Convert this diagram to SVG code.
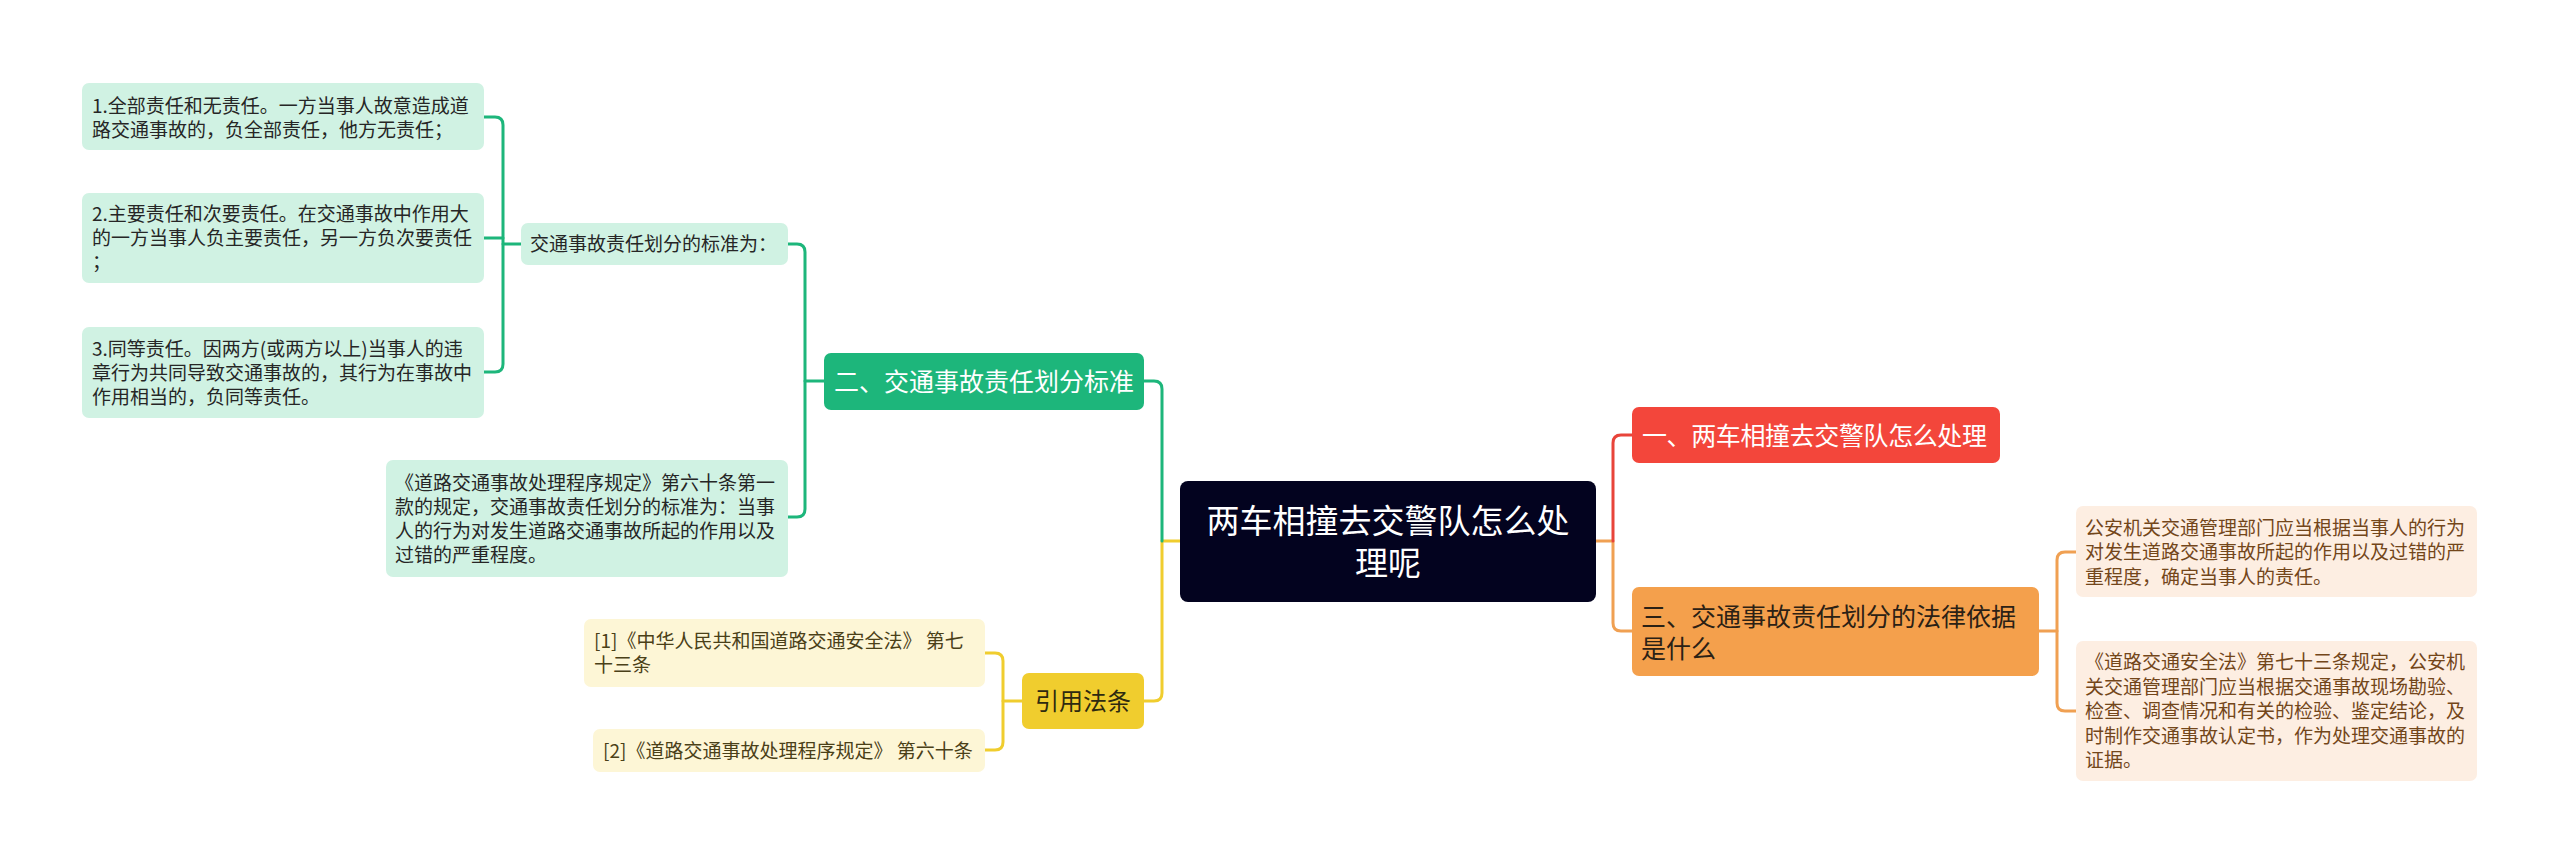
<svg xmlns="http://www.w3.org/2000/svg" width="2560" height="864" viewBox="0 0 2560 864">
<style>
text{font-family:"Noto Sans CJK SC","Noto Sans",sans-serif;}
.c{fill:none;stroke-width:3;stroke-linecap:round;stroke-linejoin:round;}
.g{stroke:#1db67b;}
.y{stroke:#f0cd2e;}
.r{stroke:#e8443a;}
.o{stroke:#f0a052;}
.lg{fill:#d0f2e3;}
.ly{fill:#fdf6d6;}
.lo{fill:#fdeee2;}
.tg{font-size:19px;fill:#262626;}
.ty{font-size:19px;fill:#4a4018;}
.to{font-size:19px;fill:#73461a;}
</style>
<rect width="2560" height="864" fill="#ffffff"/>
<g id="connectors">
<path class="c y" d="M1180,541 H1162 V693 Q1162,701 1154,701 H1144"/>
<path class="c g" d="M1162,541 V389 Q1162,381 1154,381 H1144"/>
<path class="c o" d="M1596,541 H1613 V623 Q1613,631 1621,631 H1632"/>
<path class="c r" d="M1613,541 V443 Q1613,435 1621,435 H1632"/>
<path class="c g" d="M824,381 H805"/>
<path class="c g" d="M788,244 H797 Q805,244 805,252 V509 Q805,517 797,517 H788"/>
<path class="c g" d="M521,244 H503"/>
<path class="c g" d="M484,117 H495 Q503,117 503,125 V364 Q503,372 495,372 H484"/>
<path class="c g" d="M484,238 H503"/>
<path class="c y" d="M1022,701 H1003"/>
<path class="c y" d="M985,653 H995 Q1003,653 1003,661 V742 Q1003,750 995,750 H985"/>
<path class="c o" d="M2039,631 H2057"/>
<path class="c o" d="M2076,552 H2065 Q2057,552 2057,560 V703 Q2057,711 2065,711 H2076"/>
</g>
<g id="root">
<rect x="1180" y="481" width="416" height="121" rx="8" fill="#03031f"/>
<text x="1388" y="532.5" font-size="33" fill="#ffffff" text-anchor="middle">两车相撞去交警队怎么处</text>
<text x="1388" y="574.5" font-size="33" fill="#ffffff" text-anchor="middle">理呢</text>
</g>
<g id="n-standard">
<rect x="824" y="353" width="320" height="57" rx="7" fill="#1db67b"/>
<text x="984" y="391" font-size="25" fill="#ffffff" text-anchor="middle">二、交通事故责任划分标准</text>
</g>
<g id="n-standard-intro">
<rect class="lg" x="521" y="223" width="267" height="42" rx="7"/>
<text class="tg" x="530" y="251">交通事故责任划分的标准为：</text>
</g>
<g id="n-item1">
<rect class="lg" x="82" y="83" width="402" height="67" rx="7"/>
<text class="tg" x="92" y="112.5">1.全部责任和无责任。一方当事人故意造成道</text>
<text class="tg" x="92" y="136.5">路交通事故的，负全部责任，他方无责任；</text>
</g>
<g id="n-item2">
<rect class="lg" x="82" y="193" width="402" height="90" rx="7"/>
<text class="tg" x="92" y="221">2.主要责任和次要责任。在交通事故中作用大</text>
<text class="tg" x="92" y="245">的一方当事人负主要责任，另一方负次要责任</text>
<text class="tg" x="92" y="269">；</text>
</g>
<g id="n-item3">
<rect class="lg" x="82" y="327" width="402" height="91" rx="7"/>
<text class="tg" x="92" y="355.5">3.同等责任。因两方(或两方以上)当事人的违</text>
<text class="tg" x="92" y="379.5">章行为共同导致交通事故的，其行为在事故中</text>
<text class="tg" x="92" y="403.5">作用相当的，负同等责任。</text>
</g>
<g id="n-rule60">
<rect class="lg" x="386" y="460" width="402" height="117" rx="7"/>
<text class="tg" x="395" y="489.5">《道路交通事故处理程序规定》第六十条第一</text>
<text class="tg" x="395" y="513.5">款的规定，交通事故责任划分的标准为：当事</text>
<text class="tg" x="395" y="537.5">人的行为对发生道路交通事故所起的作用以及</text>
<text class="tg" x="395" y="561.5">过错的严重程度。</text>
</g>
<g id="n-refs">
<rect x="1022" y="673" width="122" height="56" rx="7" fill="#f0cd2e"/>
<text x="1083" y="710" font-size="24" fill="#2e2a10" text-anchor="middle">引用法条</text>
</g>
<g id="n-ref1">
<rect class="ly" x="584" y="619" width="401" height="68" rx="7"/>
<text class="ty" x="594" y="648">[1]《中华人民共和国道路交通安全法》 第七</text>
<text class="ty" x="594" y="672">十三条</text>
</g>
<g id="n-ref2">
<rect class="ly" x="593" y="729" width="392" height="43" rx="7"/>
<text class="ty" x="603" y="757.5">[2]《道路交通事故处理程序规定》 第六十条</text>
</g>
<g id="n-how">
<rect x="1632" y="407" width="368" height="56" rx="7" fill="#f3463b"/>
<text x="1642" y="444.5" font-size="25" textLength="345" lengthAdjust="spacing" fill="#ffffff">一、两车相撞去交警队怎么处理</text>
</g>
<g id="n-basis">
<rect x="1632" y="587" width="407" height="89" rx="7" fill="#f4a04c"/>
<text x="1641" y="625.5" font-size="25" fill="#2b2115">三、交通事故责任划分的法律依据</text>
<text x="1641" y="657.5" font-size="25" fill="#2b2115">是什么</text>
</g>
<g id="n-basis1">
<rect class="lo" x="2076" y="506" width="401" height="91" rx="7"/>
<text class="to" x="2085" y="534.5">公安机关交通管理部门应当根据当事人的行为</text>
<text class="to" x="2085" y="559">对发生道路交通事故所起的作用以及过错的严</text>
<text class="to" x="2085" y="583.5">重程度，确定当事人的责任。</text>
</g>
<g id="n-basis2">
<rect class="lo" x="2076" y="641" width="401" height="140" rx="7"/>
<text class="to" x="2085" y="669">《道路交通安全法》第七十三条规定，公安机</text>
<text class="to" x="2085" y="693.5">关交通管理部门应当根据交通事故现场勘验、</text>
<text class="to" x="2085" y="718">检查、调查情况和有关的检验、鉴定结论，及</text>
<text class="to" x="2085" y="742.5">时制作交通事故认定书，作为处理交通事故的</text>
<text class="to" x="2085" y="767">证据。</text>
</g>
</svg>
